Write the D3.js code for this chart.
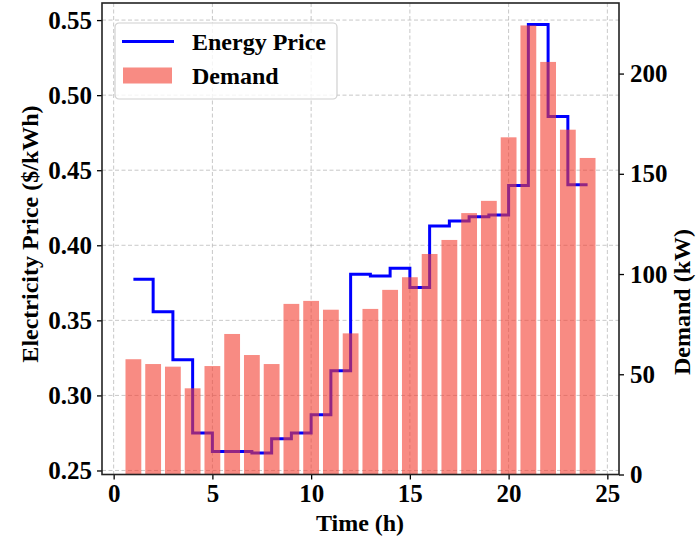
<!DOCTYPE html>
<html>
<head>
<meta charset="utf-8">
<script src="https://cdn.jsdelivr.net/npm/d3@7"></script>
<style>
  html, body { margin: 0; padding: 0; background: #fff; }
  svg text { font-family: "Liberation Serif", "Times New Roman", serif; font-weight: bold; fill: #000; }
</style>
</head>
<body>
<svg id="chart" width="697" height="542"></svg>
<script>
// Hourly data
const hours = d3.range(1, 25);
const price = [0.3774, 0.3557, 0.3238, 0.2749, 0.2627, 0.2627, 0.2616, 0.2711,
               0.2749, 0.2871, 0.3165, 0.3807, 0.3796, 0.3847, 0.3718, 0.4128,
               0.4161, 0.4190, 0.4201, 0.4398, 0.5471, 0.4858, 0.4404, 0.4404];
const demand = [57.5, 55.1, 53.8, 43.0, 54.1, 70.1, 59.6, 55.1,
                85.1, 86.6, 82.2, 70.4, 82.6, 92.1, 98.4, 110.0,
                117.0, 130.4, 136.5, 168.2, 224.0, 205.8, 172.0, 157.9];
const xTicks = [0, 5, 10, 15, 20, 25];
const priceTicks = [0.25, 0.30, 0.35, 0.40, 0.45, 0.50, 0.55];
const demandTicks = [0, 50, 100, 150, 200];
const legendLabels = ["Energy Price", "Demand"];

const svg = d3.select("#chart");
const m = { left: 102, right: 697 - 619, top: 3, bottom: 542 - 474.5 };
const W = 697 - m.left - m.right, H = 542 - m.top - m.bottom;
const g = svg.append("g").attr("transform", `translate(${m.left},${m.top})`);

const barW = 0.8;
// x range with 5% padding around the bars
const xLo = 1 - barW / 2, xHi = 24 + barW / 2, xPad = (xHi - xLo) * 0.05;
const x = d3.scaleLinear().domain([xLo - xPad, xHi + xPad]).range([0, W]);

const pMin = d3.min(price), pMax = d3.max(price), pPad = (pMax - pMin) * 0.05;
const yP = d3.scaleLinear().domain([pMin - pPad, pMax + pPad]).range([H, 0]);
const yD = d3.scaleLinear().domain([0, d3.max(demand) * 1.05]).range([H, 0]);

// grid
const grid = g.append("g").attr("stroke", "#b0b0b0").attr("stroke-opacity", 0.7)
  .attr("stroke-width", 1).attr("stroke-dasharray", "4,2.5");
grid.selectAll("line.v").data(xTicks).join("line").attr("class", "v")
  .attr("x1", d => x(d)).attr("x2", d => x(d)).attr("y1", 0).attr("y2", H);
grid.selectAll("line.h").data(priceTicks).join("line").attr("class", "h")
  .attr("x1", 0).attr("x2", W).attr("y1", d => yP(d)).attr("y2", d => yP(d));

const clip = svg.append("clipPath").attr("id", "plotclip");
clip.append("rect").attr("width", W).attr("height", H);

// price step line
const line = d3.line().x(d => x(d[0])).y(d => yP(d[1])).curve(d3.curveStepAfter);
g.append("path").datum(hours.map((h, i) => [h, price[i]]))
  .attr("clip-path", "url(#plotclip)")
  .attr("fill", "none").attr("stroke", "#0000ff").attr("stroke-width", 3)
  .attr("d", line);

// demand bars (semi-transparent, over the line)
const barColor = "rgb(243,62,48)";
const barAlpha = 0.6;
g.append("g").selectAll("rect").data(hours).join("rect")
  .attr("x", (d) => x(d - barW / 2))
  .attr("width", (d) => x(d + barW / 2) - x(d - barW / 2))
  .attr("y", (d, i) => yD(demand[i]))
  .attr("height", (d, i) => H - yD(demand[i]))
  .attr("fill", barColor).attr("fill-opacity", barAlpha);

// axes
const fs = 25;
function style(sel) {
  sel.select(".domain").remove();
  sel.selectAll(".tick line").attr("stroke", "#000").attr("stroke-width", 1.3);
  sel.selectAll(".tick text").attr("font-size", fs).attr("fill", "#000");
}
g.append("g").attr("transform", `translate(0,${H})`)
  .call(d3.axisBottom(x).tickValues(xTicks).tickSize(5).tickPadding(5).tickFormat(d3.format("d")))
  .attr("font-family", null).call(style);
g.append("g")
  .call(d3.axisLeft(yP).tickValues(priceTicks).tickSize(5).tickPadding(5).tickFormat(d3.format(".2f")))
  .attr("font-family", null).call(style);
g.append("g").attr("transform", `translate(${W},0)`)
  .call(d3.axisRight(yD).tickValues(demandTicks).tickSize(5).tickPadding(6).tickFormat(d3.format("d")))
  .attr("font-family", null).call(style);

// frame
g.append("rect").attr("width", W).attr("height", H)
  .attr("fill", "none").attr("stroke", "#222").attr("stroke-width", 1.6);

// axis titles
svg.append("text").attr("x", 360).attr("y", 531).attr("text-anchor", "middle")
  .attr("font-size", 24).text("Time (h)");
svg.append("text").attr("transform", "translate(38,234) rotate(-90)")
  .attr("text-anchor", "middle").attr("font-size", 24).text("Electricity Price ($/kWh)");
svg.append("text").attr("transform", "translate(690,302) rotate(-90)")
  .attr("text-anchor", "middle").attr("font-size", 24).text("Demand (kW)");

// legend
const lg = svg.append("g").attr("transform", "translate(115,23)");
lg.append("rect").attr("width", 222).attr("height", 76).attr("rx", 4)
  .attr("fill", "#fff").attr("fill-opacity", 0.8)
  .attr("stroke", "#d0d0d0").attr("stroke-width", 1.2);
lg.append("line").attr("x1", 7).attr("x2", 59).attr("y1", 18.5).attr("y2", 18.5)
  .attr("stroke", "#0000ff").attr("stroke-width", 3);
lg.append("rect").attr("x", 8).attr("y", 44.5).attr("width", 49).attr("height", 16)
  .attr("fill", barColor).attr("fill-opacity", barAlpha);
lg.selectAll("text").data(legendLabels).join("text")
  .attr("x", 77).attr("y", (d, i) => 27 + i * 34)
  .attr("font-size", 24).text(d => d);
</script>
</body>
</html>
